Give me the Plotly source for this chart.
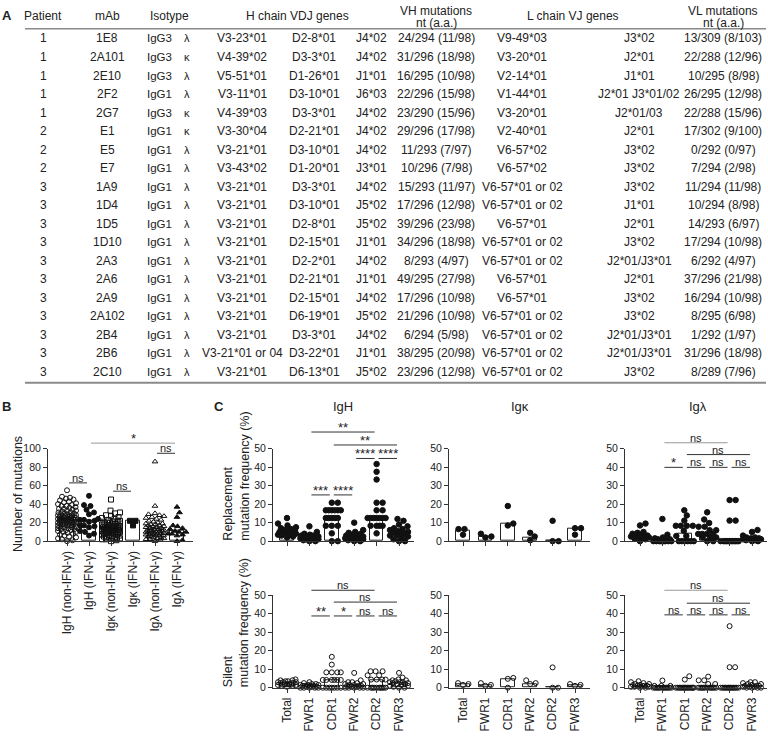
import plotly.graph_objects as go

W, H = 768, 737
FONT = "Arial, Liberation Sans, sans-serif"
INK = "#222222"

# ---------------- Panel A: table data ----------------
patients = ["1", "1", "1", "1", "1", "2", "2", "2", "3", "3", "3", "3", "3", "3", "3", "3", "3", "3", "3"]
mabs = ["1E8", "2A101", "2E10", "2F2", "2G7", "E1", "E5", "E7", "1A9", "1D4", "1D5", "1D10",
        "2A3", "2A6", "2A9", "2A102", "2B4", "2B6", "2C10"]
isotypes = ["IgG3", "IgG3", "IgG3", "IgG1", "IgG3", "IgG1", "IgG1", "IgG1", "IgG1", "IgG1", "IgG1",
            "IgG1", "IgG1", "IgG1", "IgG1", "IgG1", "IgG1", "IgG1", "IgG1"]
light_types = ["λ", "κ", "λ", "λ", "κ", "κ", "λ", "λ", "λ", "λ", "λ", "λ", "λ", "λ", "λ", "λ", "λ", "λ", "λ"]
vh_genes = ["V3-23*01", "V4-39*02", "V5-51*01", "V3-11*01", "V4-39*03", "V3-30*04", "V3-21*01",
            "V3-43*02", "V3-21*01", "V3-21*01", "V3-21*01", "V3-21*01", "V3-21*01", "V3-21*01",
            "V3-21*01", "V3-21*01", "V3-21*01", "V3-21*01 or 04", "V3-21*01"]
dh_genes = ["D2-8*01", "D3-3*01", "D1-26*01", "D3-10*01", "D3-3*01", "D2-21*01", "D3-10*01",
            "D1-20*01", "D3-3*01", "D3-10*01", "D2-8*01", "D2-15*01", "D2-2*01", "D2-21*01",
            "D2-15*01", "D6-19*01", "D3-3*01", "D3-22*01", "D6-13*01"]
jh_genes = ["J4*02", "J4*02", "J1*01", "J6*03", "J4*02", "J4*02", "J4*02", "J3*01", "J4*02", "J5*02",
            "J5*02", "J1*01", "J4*02", "J1*01", "J4*02", "J5*02", "J4*02", "J1*01", "J5*02"]
vh_mut = ["24/294 (11/98)", "31/296 (18/98)", "16/295 (10/98)", "22/296 (15/98)", "23/290 (15/96)",
          "29/296 (17/98)", "11/293 (7/97)", "10/296 (7/98)", "15/293 (11/97)", "17/296 (12/98)",
          "39/296 (23/98)", "34/296 (18/98)", "8/293 (4/97)", "49/295 (27/98)", "17/296 (10/98)",
          "21/296 (10/98)", "6/294 (5/98)", "38/295 (20/98)", "23/296 (12/98)"]
vl_genes = ["V9-49*03", "V3-20*01", "V2-14*01", "V1-44*01", "V3-20*01", "V2-40*01", "V6-57*02",
            "V6-57*02", "V6-57*01 or 02", "V6-57*01 or 02", "V6-57*01", "V6-57*01 or 02",
            "V6-57*01 or 02", "V6-57*01", "V6-57*01", "V6-57*01 or 02", "V6-57*01 or 02",
            "V6-57*01 or 02", "V6-57*01 or 02"]
jl_genes = ["J3*02", "J2*01", "J1*01", "J2*01 J3*01/02", "J2*01/03", "J2*01", "J3*02", "J3*02",
            "J3*02", "J1*01", "J2*01", "J3*02", "J2*01/J3*01", "J2*01", "J3*02", "J3*02",
            "J2*01/J3*01", "J2*01/J3*01", "J3*02"]
vl_mut = ["13/309 (8/103)", "22/288 (12/96)", "10/295 (8/98)", "26/295 (12/98)", "22/288 (15/96)",
          "17/302 (9/100)", "0/292 (0/97)", "7/294 (2/98)", "11/294 (11/98)", "10/294 (8/98)",
          "14/293 (6/97)", "17/294 (10/98)", "6/292 (4/97)", "37/296 (21/98)", "16/294 (10/98)",
          "8/295 (6/98)", "1/292 (1/97)", "31/296 (18/98)", "8/289 (7/96)"]

# ---------------- Panel B data ----------------
b_categories = ["IgH (non-IFN-γ)", "IgH (IFN-γ)", "Igκ (non-IFN-γ)", "Igκ (IFN-γ)",
                "Igλ (non-IFN-γ)", "Igλ (IFN-γ)"]
b_bars = [23, 22, 15, 22, 14, 11]
b_igh_non = [55, 48, 47, 46, 45, 44, 43, 42, 41, 40, 39, 38, 38, 37, 36, 35, 35, 34, 33, 33, 32, 31,
             31, 30, 30, 29, 29, 28, 28, 28, 27, 27, 27, 26, 26, 26, 25, 25, 25, 25, 24, 24, 24, 24,
             23, 23, 23, 23, 22, 22, 22, 22, 21, 21, 21, 21, 20, 20, 20, 20, 19, 19, 19, 18, 18, 18,
             17, 17, 17, 16, 16, 15, 15, 14, 14, 13, 13, 12, 12, 11, 10, 10, 9, 8, 7, 6, 5, 4, 3, 2,
             1, 0]
b_igh_ifn = [24, 31, 16, 22, 23, 29, 11, 10, 15, 17, 39, 34, 8, 49, 17, 21, 6, 38, 23]
b_igk_non = [45, 33, 31, 30, 28, 27, 26, 25, 24, 23, 22, 22, 21, 21, 20, 20, 19, 19, 18, 18, 18, 17,
             17, 17, 16, 16, 16, 15, 15, 15, 15, 14, 14, 14, 14, 13, 13, 13, 13, 12, 12, 12, 12, 11,
             11, 11, 11, 10, 10, 10, 10, 9, 9, 9, 8, 8, 8, 7, 7, 7, 6, 6, 5, 5, 4, 4, 3, 3, 2, 2, 1, 0]
b_igk_ifn = [22, 22, 17]
b_igl_non = [86, 38, 30, 29, 28, 27, 26, 25, 24, 23, 22, 21, 20, 19, 19, 18, 18, 17, 17, 16, 16, 15,
             15, 14, 14, 13, 13, 12, 12, 12, 11, 11, 11, 10, 10, 10, 9, 9, 9, 8, 8, 8, 7, 7, 7, 6, 6,
             6, 5, 5, 4, 4, 3, 3, 2, 2, 1, 0]
b_igl_ifn = [13, 10, 26, 0, 7, 11, 10, 14, 17, 6, 37, 16, 8, 1, 31, 8]
b_symbols = ["circle-open", "circle", "square-open", "square", "triangle-up-open", "triangle-up"]
# (from category, to category, label, bracket height in data units, faint line?)
b_sig = [(0, 1, "ns", 63, False), (2, 3, "ns", 54, False), (1, 5, "*", 106, True),
         (4, 5, "ns", 95, False)]

# ---------------- Panel C data ----------------
regions = ["Total", "FWR1", "CDR1", "FWR2", "CDR2", "FWR3"]

igh_repl = [
    [12.5, 9.5, 8.5, 7.5, 7, 6.5, 6, 5.5, 5, 5, 4.5, 4.5, 4, 4, 3.5, 3.5, 3, 2.5, 2],
    [8, 5, 4, 3.5, 3, 3, 2.5, 2.5, 2, 2, 2, 1.5, 1.5, 1, 1, 1, 0.5, 0, 0],
    [20.8, 20.8, 16.7, 16.7, 16.7, 16.7, 16.7, 16.7, 12.5, 12.5, 12.5, 12.5, 12.5, 8.3, 8.3, 8.3, 4.2, 0, 0],
    [10, 6, 5, 4.5, 4, 3.5, 3, 3, 2.5, 2, 2, 2, 1.5, 1.5, 1, 1, 0.5, 0, 0],
    [41.7, 37.5, 33.3, 20.8, 20.8, 16.7, 16.7, 12.5, 12.5, 12.5, 12.5, 12.5, 12.5, 12.5, 8.3, 8.3, 8.3, 8.3, 4.2],
    [12, 11, 9, 8, 7, 6.5, 6, 5.5, 5, 4.5, 4, 4, 3, 3, 2.5, 2, 1, 0, 0],
]
igh_repl_bars = [5, 2, 12.5, 2, 12.5, 5]
igk_repl = [[6.5, 6.5, 3.5], [4, 2, 2.5], [19, 8.5, 9.5], [4.5, 2.5, 0.5], [11, 0, 0], [7, 7, 3.5]]
igk_repl_bars = [5.5, 2.5, 9.5, 1.7, 0, 6.5]
igl_repl = [
    [9.5, 8.5, 5, 4.5, 4, 3.5, 3, 3, 3, 2.5, 2.5, 2, 2, 1.5, 1, 0],
    [12, 3.5, 2, 1.5, 1, 1, 0.5, 0, 0, 0, 0, 0, 0, 0, 0, 0],
    [16.7, 13.9, 11.1, 8.3, 8.3, 8.3, 8.3, 5.6, 2.8, 2.8, 0, 0, 0, 0, 0, 0],
    [15.6, 11.7, 9.8, 7.8, 7.8, 5.9, 5.9, 3.9, 3.9, 3.9, 3.9, 2, 2, 2, 0, 0],
    [22.2, 22.2, 11.1, 11.1, 0, 0, 0, 0, 0, 0, 0, 0, 0, 0, 0, 0],
    [6, 5, 3, 2, 2, 1.5, 1.5, 1, 1, 1, 1, 1, 0.5, 0.5, 0, 0],
]
igl_repl_bars = [3, 0.7, 4, 3.5, 0, 1]

igh_sil = [
    [4.5, 4, 4, 3.5, 3.5, 3, 3, 3, 2.5, 2.5, 2.5, 2, 2, 2, 1.5, 1.5, 1, 1, 0.5],
    [3, 2.5, 2, 2, 1.5, 1.5, 1.5, 1, 1, 1, 1, 0.5, 0.5, 0.5, 0, 0, 0, 0, 0],
    [16.7, 12.5, 8.3, 8.3, 8.3, 8.3, 4.2, 4.2, 4.2, 4.2, 4.2, 4.2, 0, 0, 0, 0, 0, 0, 0],
    [8, 4, 3, 3, 2.5, 2, 2, 1.5, 1.5, 1, 1, 1, 0.5, 0.5, 0, 0, 0, 0, 0],
    [8.9, 8.9, 8.9, 6.7, 6.7, 4.4, 4.4, 4.4, 4.4, 0, 0, 0, 0, 0, 0, 0, 0, 0, 0],
    [8, 5.5, 4.5, 4, 4, 3.5, 3, 3, 3, 2.5, 2.5, 2, 2, 1.5, 1, 1, 0.5, 0, 0],
]
igh_sil_bars = [2.5, 1, 4.2, 1.5, 4.2, 2.5]
igk_sil = [[2, 2.5, 1.5], [1, 2.5, 1.5], [5.3, 4.8, 0], [4, 2.5, 2], [11, 0, 0], [1, 2, 1.5]]
igk_sil_bars = [2, 1.5, 4.5, 2, 0, 1.5]
igl_sil = [
    [3.5, 3, 2.5, 2, 2, 1.5, 1.5, 1, 1, 1, 1, 0.5, 0.5, 0.5, 0, 0],
    [3.9, 1, 1, 1, 0, 0, 0, 0, 0, 0, 0, 0, 0, 0, 0, 0],
    [6.2, 4.4, 0, 0, 0, 0, 0, 0, 0, 0, 0, 0, 0, 0, 0, 0],
    [6, 4, 4, 2, 2, 0, 0, 0, 0, 0, 0, 0, 0, 0, 0, 0],
    [33.3, 11.1, 11.1, 0, 0, 0, 0, 0, 0, 0, 0, 0, 0, 0, 0, 0],
    [3, 3, 2.5, 2, 2, 1.5, 1, 1, 1, 0.5, 0.5, 0.5, 0, 0, 0, 0],
]
igl_sil_bars = [1, 0.3, 0, 0, 0, 1]

sig_igh_repl = [(1, 4, "**", 59, False), (2, 5, "**", 52, False), (3, 4, "****", 44.7, False),
                (4, 5, "****", 44.7, False), (1, 2, "***", 25, False), (2, 3, "****", 25, False)]
sig_igl_repl = [(1, 4, "ns", 53.2, True), (2, 5, "ns", 46.8, False), (1, 2, "*", 39.9, False),
                (2, 3, "ns", 39.9, False), (3, 4, "ns", 39.9, False), (4, 5, "ns", 39.9, False)]
sig_igh_sil = [(1, 4, "ns", 52.7, False), (2, 5, "ns", 46.3, False), (1, 2, "**", 38.8, False),
               (2, 3, "*", 38.8, False), (3, 4, "ns", 38.8, False), (4, 5, "ns", 38.8, False)]
sig_igl_sil = [(1, 4, "ns", 52.7, True), (2, 5, "ns", 45.7, False), (1, 2, "ns", 39.4, False),
               (2, 3, "ns", 39.4, False), (3, 4, "ns", 39.4, False), (4, 5, "ns", 39.4, False)]

# ---------------- helpers ----------------
annotations = []
shapes = []


def px_x(px):
    return px / W


def px_y(py):
    return 1 - py / H


def ann(px, py, text, size=12, xanchor="center", yanchor="middle", bold=False, angle=0,
        align="center", color=INK):
    if bold:
        text = "<b>" + text + "</b>"
    annotations.append(dict(x=px_x(px), y=px_y(py), xref="paper", yref="paper", text=text,
                            showarrow=False, font=dict(size=size, color=color, family=FONT),
                            xanchor=xanchor, yanchor=yanchor, textangle=angle, align=align,
                            borderpad=0))


def hline(x0, x1, y, color="#333333", width=1):
    shapes.append(dict(type="line", xref="paper", yref="paper", x0=px_x(x0), x1=px_x(x1),
                       y0=px_y(y), y1=px_y(y), line=dict(color=color, width=width)))


def swarm(vals, px_per_unit, cat_step, diam, max_half):
    order = sorted(range(len(vals)), key=lambda i: vals[i])
    placed = []
    offs = [0.0] * len(vals)
    cands = [0.0]
    k = 1
    while k * 0.5 <= max_half:
        cands += [k * 0.5, -k * 0.5]
        k += 1
    for i in order:
        y = vals[i] * px_per_unit
        best, best_d = None, -1
        for c in cands:
            dmin = min([((c - p) ** 2 + (y - q) ** 2) ** 0.5 for p, q in placed] or [1e9])
            if dmin >= diam:
                best = c
                break
            if dmin > best_d:
                best_d, best = dmin, c
        placed.append((best, y))
        offs[i] = best / cat_step
    return offs


# ---------------- Table (Panel A) ----------------
col_x = dict(pat=43, mab=107, iso=159, lt=187, vh=242, dh=314, jh=371, vhm=436, vl=522, jl=639, vlm=723)
ann(1, 10, "A", size=13, bold=True, xanchor="left")
ann(col_x["pat"], 10, "Patient")
ann(col_x["mab"], 10, "mAb")
ann(169, 10, "Isotype")
ann(297, 10, "H chain VDJ genes")
ann(col_x["vhm"], 5, "VH mutations")
ann(col_x["vhm"], 17, "nt (a.a.)")
ann(573, 10, "L chain VJ genes")
ann(col_x["vlm"], 5, "VL mutations")
ann(col_x["vlm"], 17, "nt (a.a.)")
hline(25, 766, 23, color="#8a8a8a", width=1.5)
hline(25, 766, 383, color="#8a8a8a", width=2)
row0, row_step = 33, 18.83
for r in range(len(mabs)):
    y = row0 + r * row_step
    ann(col_x["pat"], y, patients[r])
    ann(col_x["mab"], y, mabs[r])
    ann(col_x["iso"], y, isotypes[r], size=11.5)
    ann(col_x["lt"], y, light_types[r], size=11)
    ann(col_x["vh"], y, vh_genes[r])
    ann(col_x["dh"], y, dh_genes[r])
    ann(col_x["jh"], y, jh_genes[r])
    ann(col_x["vhm"], y, vh_mut[r])
    ann(col_x["vl"], y, vl_genes[r])
    ann(col_x["jl"], y, jl_genes[r])
    ann(col_x["vlm"], y, vl_mut[r])

# ---------------- Panels B & C ----------------
fig = go.Figure()
layout_axes = {}

panels = [
    dict(sfx="", x0=48, x1=193, c0=67, s=22.0, y0=544, y1=450, ymax=100, dtick=20, labels=b_categories),
    dict(sfx="2", x0=273, x1=414, c0=287, s=22.4, y0=544, y1=450, ymax=50, dtick=10, labels=None),
    dict(sfx="3", x0=449, x1=590, c0=463, s=22.4, y0=544, y1=450, ymax=50, dtick=10, labels=None),
    dict(sfx="4", x0=625, x1=767, c0=640, s=22.4, y0=544, y1=450, ymax=50, dtick=10, labels=None),
    dict(sfx="5", x0=273, x1=414, c0=287, s=22.4, y0=693, y1=599, ymax=50, dtick=10, labels=regions),
    dict(sfx="6", x0=449, x1=590, c0=463, s=22.4, y0=693, y1=599, ymax=50, dtick=10, labels=regions),
    dict(sfx="7", x0=625, x1=767, c0=640, s=22.4, y0=693, y1=599, ymax=50, dtick=10, labels=regions),
]

for p in panels:
    sfx = p["sfx"]
    layout_axes["xaxis" + sfx] = dict(
        domain=[px_x(p["x0"]), px_x(p["x1"])],
        range=[-(p["c0"] - p["x0"]) / p["s"], (p["x1"] - p["c0"]) / p["s"]],
        anchor="y" + sfx, showline=True, linecolor="#333333", linewidth=1,
        ticks="outside", ticklen=4, tickcolor="#333333", tickwidth=1,
        tickvals=list(range(6)), ticktext=p["labels"] if p["labels"] else [""] * 6,
        showticklabels=p["labels"] is not None, tickangle=-90,
        tickfont=dict(size=12, color=INK, family=FONT),
        showgrid=False, zeroline=False, fixedrange=True)
    layout_axes["yaxis" + sfx] = dict(
        domain=[px_y(p["y0"]), px_y(p["y1"])], range=[0, p["ymax"]],
        anchor="x" + sfx, showline=True, linecolor="#333333", linewidth=1,
        ticks="outside", ticklen=4, tickcolor="#333333", tickwidth=1,
        tickvals=list(range(0, p["ymax"] + 1, p["dtick"])),
        tickfont=dict(size=10.5, color=INK, family=FONT),
        showgrid=False, zeroline=False, fixedrange=True)


def cat_px(p, i):
    return p["c0"] + i * p["s"]


def val_py(p, v):
    return p["y0"] - v * (p["y0"] - p["y1"]) / p["ymax"]


def add_group(p, groups, bars, symbols, bar_width, msize):
    sfx = p["sfx"]
    ppu = (p["y0"] - p["y1"]) / p["ymax"]
    fig.add_trace(go.Bar(x=list(range(len(bars))), y=bars, width=bar_width,
                         marker=dict(color="white", line=dict(color="#222222", width=1)),
                         xaxis="x" + sfx, yaxis="y" + sfx, hoverinfo="skip"))
    for i, vals in enumerate(groups):
        offs = swarm(vals, ppu, p["s"], msize + 0.3, 9.0)
        sym = symbols[i]
        fig.add_trace(go.Scatter(
            x=[i + o for o in offs], y=vals, mode="markers", cliponaxis=False,
            marker=dict(symbol=sym, size=msize, color="#111111",
                        line=dict(color="#111111", width=1)),
            xaxis="x" + sfx, yaxis="y" + sfx, hoverinfo="skip"))


def add_sig(p, sigs):
    for a, b, label, h, faint in sigs:
        xa, xb = cat_px(p, a) + 2, cat_px(p, b) - 2
        yl = val_py(p, h)
        hline(xa, xb, yl, color="#999999" if faint else "#333333", width=1)
        if label == "ns":
            ann((xa + xb) / 2, yl + 2, label, size=11, yanchor="bottom")
        else:
            ann((xa + xb) / 2, yl + 4, label, size=13, yanchor="bottom")


pB, pHR, pKR, pLR, pHS, pKS, pLS = panels

add_group(pB, [b_igh_non, b_igh_ifn, b_igk_non, b_igk_ifn, b_igl_non, b_igl_ifn], b_bars,
          b_symbols, 0.67, 5)
add_sig(pB, b_sig)

filled = ["circle"] * 6
opened = ["circle-open"] * 6
add_group(pHR, igh_repl, igh_repl_bars, filled, 0.6, 5.5)
add_group(pKR, igk_repl, igk_repl_bars, filled, 0.6, 5.5)
add_group(pLR, igl_repl, igl_repl_bars, filled, 0.6, 5.5)
add_group(pHS, igh_sil, igh_sil_bars, opened, 0.6, 5)
add_group(pKS, igk_sil, igk_sil_bars, opened, 0.6, 5)
add_group(pLS, igl_sil, igl_sil_bars, opened, 0.6, 5)
add_sig(pHR, sig_igh_repl)
add_sig(pLR, sig_igl_repl)
add_sig(pHS, sig_igh_sil)
add_sig(pLS, sig_igl_sil)

# panel labels and titles
ann(1, 407, "B", size=13, bold=True, xanchor="left")
ann(219, 407, "C", size=13, bold=True)
ann(343, 407, "IgH", size=13)
ann(520, 407, "Igκ", size=13)
ann(698, 407, "Igλ", size=13)
ann(18, 496, "Number of mutations", size=12.5, angle=-90)
ann(236, 545, "Replacement<br>mutation frequency (%)", size=12.5, angle=-90, yanchor="bottom",
    align="left")
ann(236, 694, "Silent<br>mutation frequency (%)", size=12.5, angle=-90, yanchor="bottom",
    align="left")

fig.update_layout(
    width=W, height=H, margin=dict(l=0, r=0, t=0, b=0),
    paper_bgcolor="white", plot_bgcolor="white", showlegend=False,
    font=dict(family=FONT, color=INK), annotations=annotations, shapes=shapes,
    bargap=0, **layout_axes)

fig.write_html("out.html", config={"displayModeBar": False},
               post_script="document.body.style.margin='0';document.body.style.overflow='hidden';")
